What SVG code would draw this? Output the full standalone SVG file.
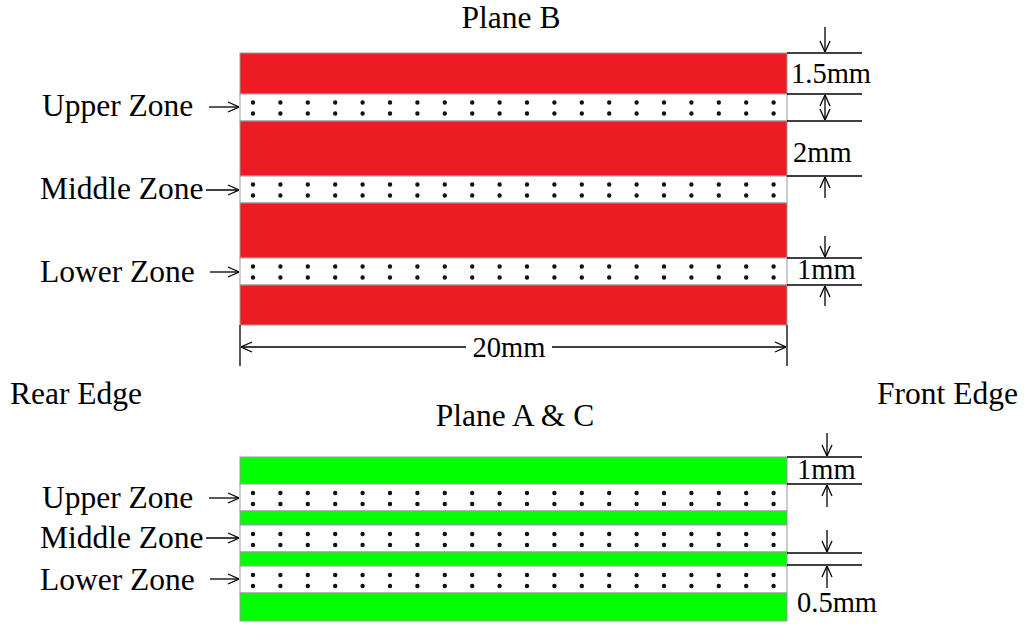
<svg xmlns="http://www.w3.org/2000/svg" width="1024" height="632" viewBox="0 0 1024 632">
<defs>
<marker id="ah" viewBox="0 0 12 12" refX="12" refY="6" markerWidth="12" markerHeight="12" markerUnits="userSpaceOnUse" orient="auto">
<path d="M1,1 L12,6 L1,11" fill="none" stroke="#000" stroke-width="1.3"/>
</marker>
<marker id="ahs" viewBox="0 0 12 12" refX="0" refY="6" markerWidth="12" markerHeight="12" markerUnits="userSpaceOnUse" orient="auto">
<path d="M11,1 L0,6 L11,11" fill="none" stroke="#000" stroke-width="1.3"/>
</marker>
</defs>
<style>
text{font-family:"Liberation Serif","Times New Roman",serif;fill:#000}
.t{font-size:31.5px}
.d{font-size:28.5px}
.red{fill:#ED1C24;stroke:#999;stroke-width:1}
.grn{fill:#00FF00;stroke:#999;stroke-width:1}
.wht{fill:#fff;stroke:#999;stroke-width:1}
.dots{stroke:#111;stroke-width:4.4;stroke-linecap:round;stroke-dasharray:0 27.4;fill:none}
.ln{stroke:#000;stroke-width:1.3;fill:none}
.ar{stroke:#000;stroke-width:1.3;fill:none;marker-end:url(#ah)}
</style>
<rect width="1024" height="632" fill="#fff"/>

<g id="planeB">
<text class="t" x="511" y="28" text-anchor="middle">Plane B</text>
<rect class="red" x="240" y="53" width="547" height="41"/>
<rect class="wht" x="240" y="94" width="547" height="27"/>
<rect class="red" x="240" y="121" width="547" height="55"/>
<rect class="wht" x="240" y="176" width="547" height="27"/>
<rect class="red" x="240" y="203" width="547" height="55"/>
<rect class="wht" x="240" y="258" width="547" height="27"/>
<rect class="red" x="240" y="285" width="547" height="40"/>
<line class="dots" x1="253" y1="102.5" x2="775" y2="102.5"/>
<line class="dots" x1="253" y1="113.5" x2="775" y2="113.5"/>
<line class="dots" x1="253" y1="184.5" x2="775" y2="184.5"/>
<line class="dots" x1="253" y1="195.5" x2="775" y2="195.5"/>
<line class="dots" x1="253" y1="266.5" x2="775" y2="266.5"/>
<line class="dots" x1="253" y1="277.5" x2="775" y2="277.5"/>
</g>

<g id="labelsB">
<text class="t" x="42" y="116">Upper Zone</text>
<text class="t" x="40" y="199">Middle Zone</text>
<text class="t" x="40" y="282">Lower Zone</text>
</g>

<g id="planeAC">
<text class="t" x="515" y="426" text-anchor="middle">Plane A &amp; C</text>
<rect class="grn" x="240" y="457" width="547" height="27"/>
<rect class="wht" x="240" y="484" width="547" height="27"/>
<rect class="grn" x="240" y="511" width="547" height="14"/>
<rect class="wht" x="240" y="525" width="547" height="27"/>
<rect class="grn" x="240" y="552" width="547" height="14"/>
<rect class="wht" x="240" y="566" width="547" height="27"/>
<rect class="grn" x="240" y="593" width="547" height="28"/>
<line class="dots" x1="253" y1="493" x2="775" y2="493"/>
<line class="dots" x1="253" y1="504" x2="775" y2="504"/>
<line class="dots" x1="253" y1="534" x2="775" y2="534"/>
<line class="dots" x1="253" y1="545" x2="775" y2="545"/>
<line class="dots" x1="253" y1="575" x2="775" y2="575"/>
<line class="dots" x1="253" y1="586" x2="775" y2="586"/>
</g>

<g id="labelsAC">
<text class="t" x="42" y="508">Upper Zone</text>
<text class="t" x="40" y="548">Middle Zone</text>
<text class="t" x="40" y="590">Lower Zone</text>
</g>

<g id="edges">
<text class="t" x="10" y="404">Rear Edge</text>
<text class="t" x="877" y="404">Front Edge</text>
</g>

<g id="connectors">
<line class="ar" x1="209" y1="107" x2="239" y2="107"/>
<line class="ar" x1="206" y1="190" x2="239" y2="190"/>
<line class="ar" x1="210" y1="272" x2="239" y2="272"/>
<line class="ar" x1="209" y1="498" x2="239" y2="498"/>
<line class="ar" x1="206" y1="538" x2="239" y2="538"/>
<line class="ar" x1="210" y1="579" x2="239" y2="579"/>

<line class="ln" x1="787" y1="53" x2="862" y2="53"/>
<line class="ln" x1="787" y1="94" x2="862" y2="94"/>
<line class="ln" x1="787" y1="121" x2="862" y2="121"/>
<line class="ln" x1="787" y1="176" x2="862" y2="176"/>
<line class="ln" x1="787" y1="258" x2="862" y2="258"/>
<line class="ln" x1="787" y1="285" x2="862" y2="285"/>
<line class="ar" x1="825" y1="27" x2="825" y2="52"/>
<line class="ln" x1="825" y1="95" x2="825" y2="120" marker-start="url(#ahs)" marker-end="url(#ah)"/>
<line class="ar" x1="825" y1="198" x2="825" y2="177"/>
<line class="ar" x1="825" y1="236" x2="825" y2="257"/>
<line class="ar" x1="825" y1="306" x2="825" y2="286"/>

<line class="ln" x1="240" y1="325" x2="240" y2="366"/>
<line class="ln" x1="787" y1="325" x2="787" y2="366"/>
<line class="ar" x1="466" y1="347" x2="241" y2="347"/>
<line class="ar" x1="552" y1="347" x2="786" y2="347"/>

<line class="ln" x1="787" y1="457" x2="862" y2="457"/>
<line class="ln" x1="787" y1="484" x2="862" y2="484"/>
<line class="ln" x1="787" y1="553" x2="862" y2="553"/>
<line class="ln" x1="787" y1="565" x2="862" y2="565"/>
<line class="ar" x1="827" y1="433" x2="827" y2="456"/>
<line class="ar" x1="827" y1="507" x2="827" y2="485"/>
<line class="ar" x1="827" y1="530" x2="827" y2="552"/>
<line class="ar" x1="827" y1="588" x2="827" y2="566"/>
</g>

<g id="dimLabels">
<text class="d" x="791" y="83">1.5mm</text>
<text class="d" x="793" y="162">2mm</text>
<text class="d" x="797" y="279">1mm</text>
<text class="d" x="509" y="357" text-anchor="middle">20mm</text>
<text class="d" x="797" y="479">1mm</text>
<text class="d" x="797" y="612">0.5mm</text>
</g>
</svg>
